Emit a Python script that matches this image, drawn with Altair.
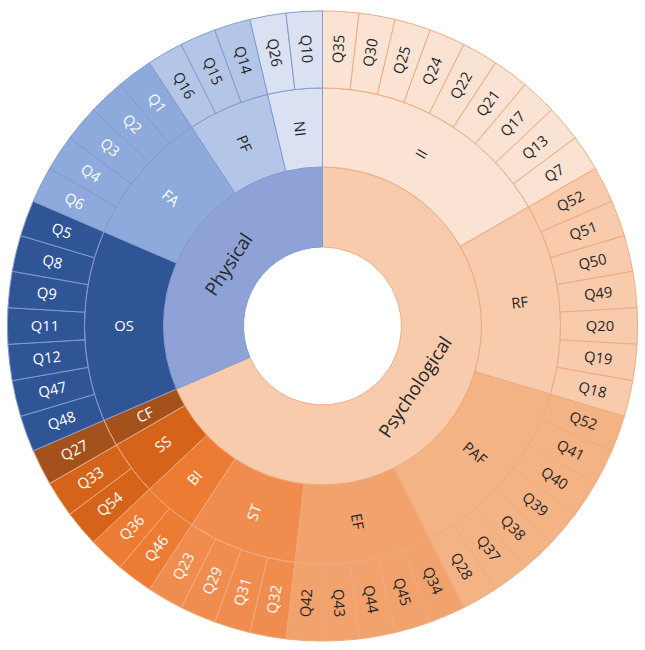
import math
import altair as alt
import pandas as pd

# ---- data -------------------------------------------------------------
groups = ["Psychological", "Physical"]
group_colors = ["#F8CBAD", "#8FA2D8"]
group_strokes = ["#EFAA7E", "#8299D0"]
group_text = ["#262626", "#262626"]

categories = ["II", "RF", "PAF", "EF", "ST", "BI", "SS", "CF", "OS", "FA", "PF", "NI"]
category_group = ["Psychological"] * 8 + ["Physical"] * 4
category_colors = ["#FBE3D4", "#F8CBAD", "#F4B385", "#F2A26C", "#F08D4E", "#EC7C34",
                   "#D6631A", "#A5511C", "#2F5597", "#8EA9DB", "#B4C6E7", "#D9E1F2"]
category_text = ["#262626", "#262626", "#262626", "#262626", "white", "white",
                 "white", "white", "white", "white", "#262626", "#262626"]

items_II = ["Q35", "Q30", "Q25", "Q24", "Q22", "Q21", "Q17", "Q13", "Q7"]
items_RF = ["Q52", "Q51", "Q50", "Q49", "Q20", "Q19", "Q18"]
items_PAF = ["Q52", "Q41", "Q40", "Q39", "Q38", "Q37", "Q28"]
items_EF = ["Q34", "Q45", "Q44", "Q43", "Q42"]
items_ST = ["Q32", "Q31", "Q29", "Q23"]
items_BI = ["Q46", "Q36"]
items_SS = ["Q54", "Q33"]
items_CF = ["Q27"]
items_OS = ["Q48", "Q47", "Q12", "Q11", "Q9", "Q8", "Q5"]
items_FA = ["Q6", "Q4", "Q3", "Q2", "Q1"]
items_PF = ["Q16", "Q15", "Q14"]
items_NI = ["Q26", "Q10"]
item_weight = 1

category_items = [items_II, items_RF, items_PAF, items_EF, items_ST, items_BI,
                  items_SS, items_CF, items_OS, items_FA, items_PF, items_NI]

# ---- build tables -------------------------------------------------------
leaf_rows = []
for cat, grp, col, tcol, its in zip(categories, category_group, category_colors,
                                    category_text, category_items):
    stroke = group_strokes[groups.index(grp)]
    for q in its:
        leaf_rows.append(dict(label=q, value=item_weight, fill=col, stroke=stroke, textColor=tcol))
leaf = pd.DataFrame(leaf_rows)

cat = pd.DataFrame(dict(label=categories, fill=category_colors, textColor=category_text,
                        value=[len(i) * item_weight for i in category_items],
                        stroke=[group_strokes[groups.index(g)] for g in category_group]))

grp = pd.DataFrame(dict(label=groups, fill=group_colors, textColor=group_text, stroke=group_strokes,
                        value=[sum(len(i) * item_weight for i, g in zip(category_items, category_group) if g == G)
                               for G in groups]))

total = float(leaf["value"].sum())


def add_angles(df, radial=True):
    df = df.copy()
    df["end"] = df["value"].cumsum()
    df["start"] = df["end"] - df["value"]
    df["mid"] = (df["start"] + df["end"]) / 2
    deg = df["mid"] / total * 360
    if radial:
        df["rot"] = [((d - 90) % 360) if d < 180 else ((d + 90) % 360) for d in deg]
    else:
        df["rot"] = [((d - 180) % 360) if 90 < d < 270 else (d % 360) for d in deg]
    return df


leaf = add_angles(leaf, True)
cat = add_angles(cat, True)
grp = add_angles(grp, False)

theta_scale = alt.Scale(domain=[0, total], range=[0, 2 * math.pi])


def arcs(df, r0, r1):
    return alt.Chart(df).mark_arc(innerRadius=r0, outerRadius=r1, strokeWidth=1).encode(
        theta=alt.Theta("start:Q", scale=theta_scale, stack=False),
        theta2="end:Q",
        fill=alt.Fill("fill:N", scale=None),
        stroke=alt.Stroke("stroke:N", scale=None),
    )


def labels(df, r, size):
    return alt.Chart(df).mark_text(radius=r, fontSize=size, font="Open Sans",
                                   align="center", baseline="middle").encode(
        theta=alt.Theta("mid:Q", scale=theta_scale),
        text="label:N",
        angle=alt.Angle("rot:Q", scale=None),
        color=alt.Color("textColor:N", scale=None),
    )


chart = alt.layer(
    arcs(grp, 80, 161),
    arcs(cat, 161, 241),
    arcs(leaf, 241, 319),
    labels(grp, 113, 19),
    labels(cat, 201, 15),
    labels(leaf, 281, 15),
).properties(width=635, height=640).configure_view(stroke=None).configure(background="white")

chart.save("out.html", embed_options={"renderer": "svg", "actions": False})
